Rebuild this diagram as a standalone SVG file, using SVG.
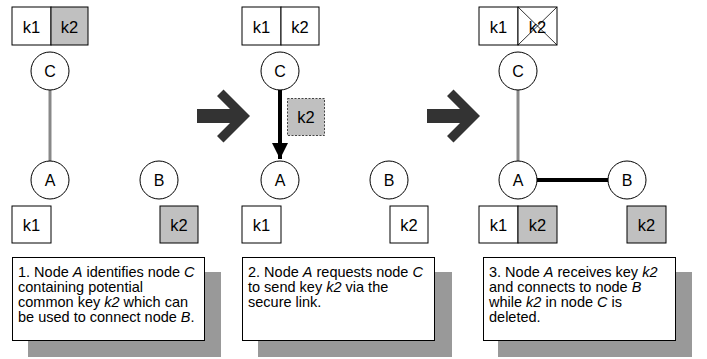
<svg xmlns="http://www.w3.org/2000/svg" width="707" height="359" viewBox="0 0 707 359">
  <defs>
    <style>
      .key { stroke: #000; stroke-width: 1; fill: #fff; }
      .key.shared { fill: #c0c0c0; }
      .key.sent { fill: #c0c0c0; stroke: #444; stroke-dasharray: 2 1.5; }
      .ktxt { font-family: "Liberation Sans", Arial, sans-serif; font-size: 16.5px; fill: #000; text-anchor: middle; }
      .node circle { stroke: #000; stroke-width: 1; fill: #fff; }
      .ntxt { font-family: "Liberation Sans", Arial, sans-serif; font-size: 16px; fill: #000; text-anchor: middle; }
      .link { stroke: #888; stroke-width: 3; fill: none; }
      .newlink { stroke: #000; stroke-width: 4; fill: none; }
      .step { fill: #333; }
      .shadow { fill: #999; }
      .note { fill: #fff; stroke: #000; stroke-width: 1; }
      .ntext { font-family: "Liberation Sans", Arial, sans-serif; font-size: 14.5px; fill: #000; }
      .cross { stroke: #000; stroke-width: 0.8; }
    </style>
    <marker id="head" viewBox="0 0 10 10" refX="10" refY="5" markerWidth="4" markerHeight="4" markerUnits="strokeWidth" orient="auto">
      <path d="M0,0 L10,5 L0,10 z" fill="#000"/>
    </marker>
    <path id="step-arrow" d="M0,-7 L33,-7 L20,-20 L26.5,-26.5 L53,0 L26.5,26.5 L20,20 L33,7 L0,7 z"/>
  </defs>

  <!-- connectors -->
  <g id="connectors">
    <line class="link" x1="50" y1="90" x2="50" y2="161"/>
    <line class="newlink" x1="280" y1="90" x2="280" y2="159" marker-end="url(#head)"/>
    <line class="link" x1="518" y1="90" x2="518" y2="161"/>
    <line class="newlink" x1="537" y1="180" x2="608" y2="180"/>
  </g>

  <!-- step arrows -->
  <use href="#step-arrow" class="step" x="197" y="116"/>
  <use href="#step-arrow" class="step" x="427" y="116"/>

  <!-- panel 1 -->
  <g id="p1-keys-c">
    <rect class="key" x="12" y="7" width="39" height="38"/>
    <rect class="key shared" x="51" y="7" width="37" height="38"/>
    <text class="ktxt" x="31.5" y="32.5">k1</text>
    <text class="ktxt" x="69.5" y="32.5">k2</text>
  </g>
  <g id="p1-node-c" class="node">
    <circle cx="50" cy="71" r="19"/>
    <text class="ntxt" x="50" y="76.5">C</text>
  </g>
  <g id="p1-node-a" class="node">
    <circle cx="50" cy="180" r="19"/>
    <text class="ntxt" x="50" y="185.5">A</text>
  </g>
  <g id="p1-node-b" class="node">
    <circle cx="159" cy="180" r="19"/>
    <text class="ntxt" x="159" y="185.5">B</text>
  </g>
  <g id="p1-keys-a">
    <rect class="key" x="12" y="206" width="39" height="37"/>
    <text class="ktxt" x="31.5" y="231">k1</text>
  </g>
  <g id="p1-keys-b">
    <rect class="key shared" x="160" y="206" width="38" height="37"/>
    <text class="ktxt" x="179" y="231">k2</text>
  </g>
  <g id="p1-note">
    <rect class="shadow" x="28" y="272" width="193" height="85"/>
    <rect class="note" x="12.5" y="257.5" width="192" height="83"/>
    <text class="ntext" x="18" y="277">1. Node <tspan font-style="italic">A</tspan> identifies node <tspan font-style="italic">C</tspan></text>
    <text class="ntext" x="18" y="292">containing potential</text>
    <text class="ntext" x="18" y="307">common key <tspan font-style="italic">k2</tspan> which can</text>
    <text class="ntext" x="18" y="322">be used to connect node <tspan font-style="italic">B</tspan>.</text>
  </g>

  <!-- panel 2 -->
  <g id="p2-keys-c">
    <rect class="key" x="242" y="7" width="39" height="38"/>
    <rect class="key" x="281" y="7" width="38" height="38"/>
    <text class="ktxt" x="261.5" y="32.5">k1</text>
    <text class="ktxt" x="300" y="32.5">k2</text>
  </g>
  <g id="p2-node-c" class="node">
    <circle cx="280" cy="71" r="19"/>
    <text class="ntxt" x="280" y="76.5">C</text>
  </g>
  <g id="p2-key-sent">
    <rect class="key sent" x="287.5" y="98.5" width="37" height="37"/>
    <text class="ktxt" x="306" y="123">k2</text>
  </g>
  <g id="p2-node-a" class="node">
    <circle cx="280" cy="180" r="19"/>
    <text class="ntxt" x="280" y="185.5">A</text>
  </g>
  <g id="p2-node-b" class="node">
    <circle cx="389" cy="180" r="19"/>
    <text class="ntxt" x="389" y="185.5">B</text>
  </g>
  <g id="p2-keys-a">
    <rect class="key" x="242" y="206" width="39" height="37"/>
    <text class="ktxt" x="261.5" y="231">k1</text>
  </g>
  <g id="p2-keys-b">
    <rect class="key" x="390" y="206" width="38" height="37"/>
    <text class="ktxt" x="409" y="231">k2</text>
  </g>
  <g id="p2-note">
    <rect class="shadow" x="258" y="272" width="194" height="85"/>
    <rect class="note" x="242.5" y="257.5" width="192" height="83"/>
    <text class="ntext" x="248" y="277">2. Node <tspan font-style="italic">A</tspan> requests node <tspan font-style="italic">C</tspan></text>
    <text class="ntext" x="248" y="292">to send key <tspan font-style="italic">k2</tspan> via the</text>
    <text class="ntext" x="248" y="307">secure link.</text>
  </g>

  <!-- panel 3 -->
  <g id="p3-keys-c">
    <rect class="key" x="479" y="7" width="39" height="38"/>
    <rect class="key" x="518" y="7" width="39" height="38"/>
    <text class="ktxt" x="498.5" y="32.5">k1</text>
    <text class="ktxt" x="537.5" y="32.5">k2</text>
    <line class="cross" x1="518" y1="7" x2="557" y2="45"/>
    <line class="cross" x1="557" y1="7" x2="518" y2="45"/>
  </g>
  <g id="p3-node-c" class="node">
    <circle cx="518" cy="71" r="19"/>
    <text class="ntxt" x="518" y="76.5">C</text>
  </g>
  <g id="p3-node-a" class="node">
    <circle cx="518" cy="180" r="19"/>
    <text class="ntxt" x="518" y="185.5">A</text>
  </g>
  <g id="p3-node-b" class="node">
    <circle cx="627" cy="180" r="19"/>
    <text class="ntxt" x="627" y="185.5">B</text>
  </g>
  <g id="p3-keys-a">
    <rect class="key" x="479" y="206" width="39" height="37"/>
    <rect class="key shared" x="518" y="206" width="39" height="37"/>
    <text class="ktxt" x="498.5" y="231">k1</text>
    <text class="ktxt" x="537.5" y="231">k2</text>
  </g>
  <g id="p3-keys-b">
    <rect class="key shared" x="627" y="206" width="39" height="37"/>
    <text class="ktxt" x="646.5" y="231">k2</text>
  </g>
  <g id="p3-note">
    <rect class="shadow" x="498" y="272" width="194" height="85"/>
    <rect class="note" x="483.5" y="257.5" width="192" height="83"/>
    <text class="ntext" x="489" y="277">3. Node <tspan font-style="italic">A</tspan> receives key <tspan font-style="italic">k2</tspan></text>
    <text class="ntext" x="489" y="292">and connects to node <tspan font-style="italic">B</tspan></text>
    <text class="ntext" x="489" y="307">while <tspan font-style="italic">k2</tspan> in node <tspan font-style="italic">C</tspan> is</text>
    <text class="ntext" x="489" y="322">deleted.</text>
  </g>
</svg>
